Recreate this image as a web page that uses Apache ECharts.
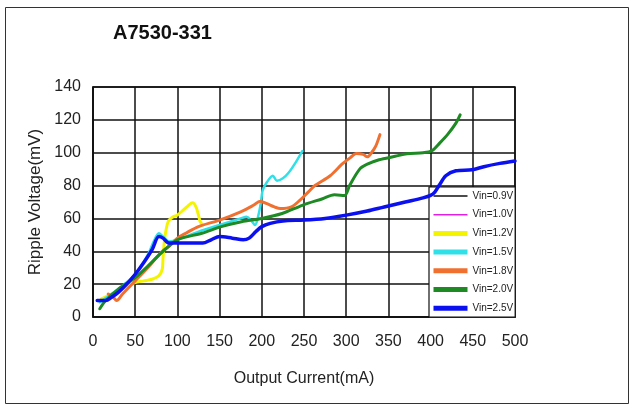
<!DOCTYPE html>
<html>
<head>
<meta charset="utf-8">
<script src="https://cdn.jsdelivr.net/npm/echarts@6/dist/echarts.min.js"></script>
<style>
html,body{margin:0;padding:0;background:#fff;}
#chart{width:632px;height:410px;}
</style>
</head>
<body>
<div id="chart"></div>
<script>
const title = "A7530-331";
const xName = "Output Current(mA)";
const yName = "Ripple Voltage(mV)";
const xMin = 0, xMax = 500, xStep = 50;
const yMin = 0, yMax = 140, yStep = 20;

const seriesNames = ["Vin=0.9V","Vin=1.0V","Vin=1.2V","Vin=1.5V","Vin=1.8V","Vin=2.0V","Vin=2.5V"];

const vin09 = [];
const vin10 = [];
const vin12 = [[10,11],[30,16],[50,21],[60,22],[70,23],[78,25],[82,29],[83,36],[85,48],[89,58],[95,61],[100,62],[111,67],[118,69.5],[122,67],[125,62],[127,58],[130,56]];
const vin15 = [[8,9],[30,17],[50,26],[65,38],[72,46],[78,51],[83,49],[90,46],[100,47],[125,52],[150,56],[175,60],[182,61],[187,59],[192,56],[196,62],[199,70],[201,77],[206,82],[213,86],[218,83],[225,84.5],[232,88],[240,94],[248,101]];
const vin18 = [[18,14],[24,12],[28,10],[35,14],[50,22],[65,30],[75,36],[82,40],[90,43],[100,48],[110,51],[125,55],[150,59],[175,64],[190,68],[198,70.5],[206,69],[215,67],[222,66],[235,67],[245,71],[255,76],[263,80],[281,86],[295,93],[305,97],[312,99.5],[320,99],[325,97.5],[330,100],[335,104],[340,111]];
const vin20 = [[8,5],[15,10],[30,17],[50,24],[65,31],[81,39],[100,47],[129,51],[152,55],[176,58],[200,60],[224,63],[248,68],[272,72],[286,74.4],[298,74],[304,80],[316,90],[325,93],[339,95.7],[358,97.8],[372,99.4],[391,100],[401,101],[411,106],[420,111],[430,118],[435,123]];
const vin25 = [[5,10],[15,10],[22,12],[30,15],[40,20],[50,26],[60,33],[70,41],[78,49],[83,48],[90,45],[100,45],[115,45],[130,45],[140,47],[150,49],[165,48],[178,47],[185,48],[193,52],[200,55],[210,57],[225,58.5],[250,59],[275,60],[300,62],[325,64.5],[345,67],[370,70],[391,72.5],[400,74],[405,76],[410,80],[418,86],[430,89],[449,89.6],[463,91.5],[482,93.5],[500,95]];

const seriesData = [vin09, vin10, vin12, vin15, vin18, vin20, vin25];
const colors = ["#111111","#e020e0","#f4f400","#30e0e8","#f07030","#1e8a24","#0a10f0"];
const widths = [1.5,1.5,3,2.5,3,3,3.5];
const legendWidths = [1.5,1.5,5,5,5,5,5];

const chart = echarts.init(document.getElementById('chart'), null, {renderer:'canvas'});
const font = "'Liberation Sans', Arial, sans-serif";

const option = {
  backgroundColor: '#fff',
  animation: false,
  title: {
    text: title, left: 108, top: 18,
    textStyle: {fontFamily: font, fontSize: 20, fontWeight: 'bold', color: '#111'}
  },
  graphic: [{
    type: 'rect', shape: {x: 5.5, y: 7.5, width: 623, height: 396},
    style: {fill: 'none', stroke: '#333', lineWidth: 1}, z: -1
  }],
  legend: {
    orient: 'vertical', left: 429, top: 187,
    padding: [3, 2, 3, 2],
    backgroundColor: '#fff', borderColor: '#111', borderWidth: 1.2,
    itemWidth: 34, itemHeight: 12, itemGap: 6.7,
    textStyle: {fontFamily: font, fontSize: 10, color: '#222', lineHeight: 12},
    data: seriesNames.map((n, i) => ({
      name: n,
      lineStyle: {width: legendWidths[i], color: colors[i], cap: 'butt'},
      itemStyle: {opacity: 0}
    }))
  },
  grid: {left: 93, right: 117, top: 87, bottom: 93, show: true, borderColor: '#111', borderWidth: 1.5},
  xAxis: {
    type: 'value', min: xMin, max: xMax, interval: xStep,
    name: xName, nameLocation: 'middle', nameGap: 54,
    nameTextStyle: {fontFamily: font, fontSize: 16, color: '#222'},
    axisLine: {show: true, lineStyle: {color: '#111', width: 1.5}},
    axisTick: {show: false},
    axisLabel: {fontFamily: font, fontSize: 16, color: '#222', margin: 17},
    splitLine: {show: true, lineStyle: {color: '#111', width: 1.5}}
  },
  yAxis: {
    type: 'value', min: yMin, max: yMax, interval: yStep,
    name: yName, nameLocation: 'middle', nameGap: 48,
    nameTextStyle: {fontFamily: font, fontSize: 17, color: '#222'},
    axisLine: {show: true, lineStyle: {color: '#111', width: 1.5}},
    axisTick: {show: false},
    axisLabel: {fontFamily: font, fontSize: 16, color: '#222', margin: 12},
    splitLine: {show: true, lineStyle: {color: '#111', width: 1.5}}
  },
  series: seriesNames.map((n, i) => ({
    name: n, type: 'line', data: seriesData[i],
    symbol: 'none', smooth: 0.3,
    lineStyle: {color: colors[i], width: widths[i], cap: 'round', join: 'round'},
    itemStyle: {color: colors[i]},
    z: 2 + i
  }))
};
chart.setOption(option);
</script>
</body>
</html>
